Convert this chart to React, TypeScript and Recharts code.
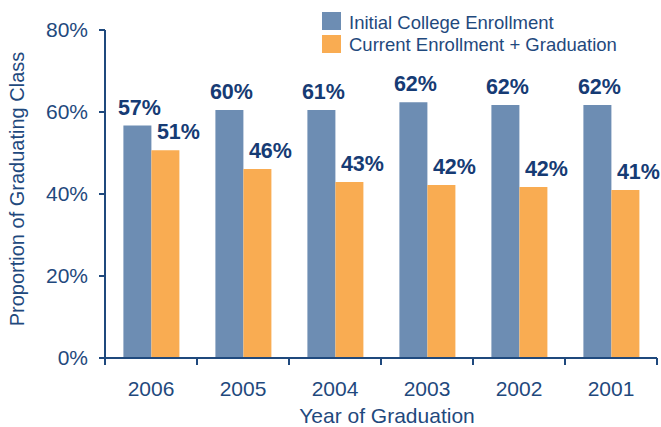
import React from 'react';
import { BarChart, Bar, XAxis, YAxis, Legend, LabelList, Label } from 'recharts';

const years = ['2006', '2005', '2004', '2003', '2002', '2001'];
const initialEnrollment = [56.7, 60.5, 60.5, 62.4, 61.7, 61.7];
const currentPlusGraduation = [50.7, 46.1, 42.9, 42.2, 41.7, 41.0];
const initialLabels = ['57%', '60%', '61%', '62%', '62%', '62%'];
const currentLabels = ['51%', '46%', '43%', '42%', '42%', '41%'];
const yTicks = [0, 20, 40, 60, 80];
const seriesOrder = ['initial', 'current'];

const data = years.map((year, i) => ({
  year,
  initial: initialEnrollment[i],
  current: currentPlusGraduation[i],
  initialLabel: initialLabels[i],
  currentLabel: currentLabels[i],
}));

const FONT = '"Liberation Sans", Arial, Helvetica, sans-serif';
const TEXT = '#1F497D';
const LABEL = '#163B74';
const BLUE = '#6D8DB3';
const ORANGE = '#F9AC52';

const XTick = (props: any) => {
  const { x, y, payload, index, visibleTicksCount, width } = props;
  const axisY = y - 8;
  const half = (width || 552) / (visibleTicksCount || 6) / 2;
  return (
    <g>
      <line x1={x - half} x2={x - half} y1={axisY} y2={axisY + 7} stroke={TEXT} strokeWidth={2} />
      {index === visibleTicksCount - 1 ? (
        <line x1={x + half} x2={x + half} y1={axisY} y2={axisY + 7} stroke={TEXT} strokeWidth={2} />
      ) : null}
      <text x={x} y={y + 30} textAnchor="middle" fill={TEXT} fontSize={21} fontFamily={FONT}>
        {payload.value}
      </text>
    </g>
  );
};

const makeBarLabel = (dx: number, lift: number) => (props: any) => {
  const { x, y, width, value } = props;
  return (
    <text
      x={Number(x) + Number(width) / 2 + dx}
      y={Number(y) - lift}
      textAnchor="middle"
      fill={LABEL}
      fontSize={21.5}
      fontWeight="bold"
      fontFamily={FONT}
    >
      {value}
    </text>
  );
};

const renderLegend = (props: any) => {
  const payload = [...(props.payload || [])].sort(
    (a: any, b: any) => seriesOrder.indexOf(a.dataKey) - seriesOrder.indexOf(b.dataKey)
  );
  return (
    <svg width={661} height={60} style={{ display: 'block' }}>
      {payload.map((entry: any, i: number) => (
        <g key={i}>
          <rect x={322} y={12 + i * 23} width={19} height={18} fill={entry.color} />
          <text x={349} y={29 + i * 22} fill={TEXT} fontSize={18.5} fontFamily={FONT}>
            {entry.value}
          </text>
        </g>
      ))}
    </svg>
  );
};

const YTitle = (props: any) => {
  const vb = props.viewBox || { x: 0, y: 30, width: 105, height: 328 };
  const cx = vb.x + 24;
  const cy = vb.y + vb.height / 2 - 5;
  return (
    <text
      x={cx}
      y={cy}
      transform={`rotate(-90, ${cx}, ${cy})`}
      textAnchor="middle"
      fill={TEXT}
      fontSize={20}
      fontFamily={FONT}
    >
      Proportion of Graduating Class
    </text>
  );
};

const XTitle = (props: any) => {
  const vb = props.viewBox || { x: 105, y: 358, width: 552, height: 69 };
  return (
    <text
      x={vb.x + vb.width / 2 + 6}
      y={vb.y + vb.height - 4}
      textAnchor="middle"
      fill={TEXT}
      fontSize={21}
      fontFamily={FONT}
    >
      Year of Graduation
    </text>
  );
};

export default function App() {
  return (
    <div style={{ position: 'absolute', left: 0, top: 0, background: '#fff' }}>
      <BarChart
        width={661}
        height={427}
        data={data}
        margin={{ top: 30, right: 4, bottom: 0, left: 0 }}
        barGap={0}
        barCategoryGap="20%"
      >
        <XAxis
          dataKey="year"
          height={69}
          axisLine={{ stroke: TEXT, strokeWidth: 2 }}
          tickLine={false}
          tick={<XTick />}
          interval={0}
        >
          <Label content={<XTitle />} />
        </XAxis>
        <YAxis
          width={105}
          domain={[0, 80]}
          ticks={yTicks}
          interval={0}
          tickFormatter={(v: number) => `${v}%`}
          axisLine={{ stroke: TEXT, strokeWidth: 2 }}
          tickLine={{ stroke: TEXT, strokeWidth: 2 }}
          tickSize={6}
          tickMargin={11}
          tick={{ fill: TEXT, fontSize: 21, fontFamily: FONT }}
        >
          <Label content={<YTitle />} />
        </YAxis>
        <Legend
          layout="horizontal"
          verticalAlign="middle"
          align="center"
          content={renderLegend}
          wrapperStyle={{ top: 0, left: 0, width: 661, height: 60 }}
        />
        <Bar dataKey="initial" name="Initial College Enrollment" fill={BLUE} isAnimationActive={false}>
          <LabelList dataKey="initialLabel" content={makeBarLabel(2, 11)} />
        </Bar>
        <Bar dataKey="current" name="Current Enrollment + Graduation" fill={ORANGE} isAnimationActive={false}>
          <LabelList dataKey="currentLabel" content={makeBarLabel(13, 11)} />
        </Bar>
      </BarChart>
    </div>
  );
}
